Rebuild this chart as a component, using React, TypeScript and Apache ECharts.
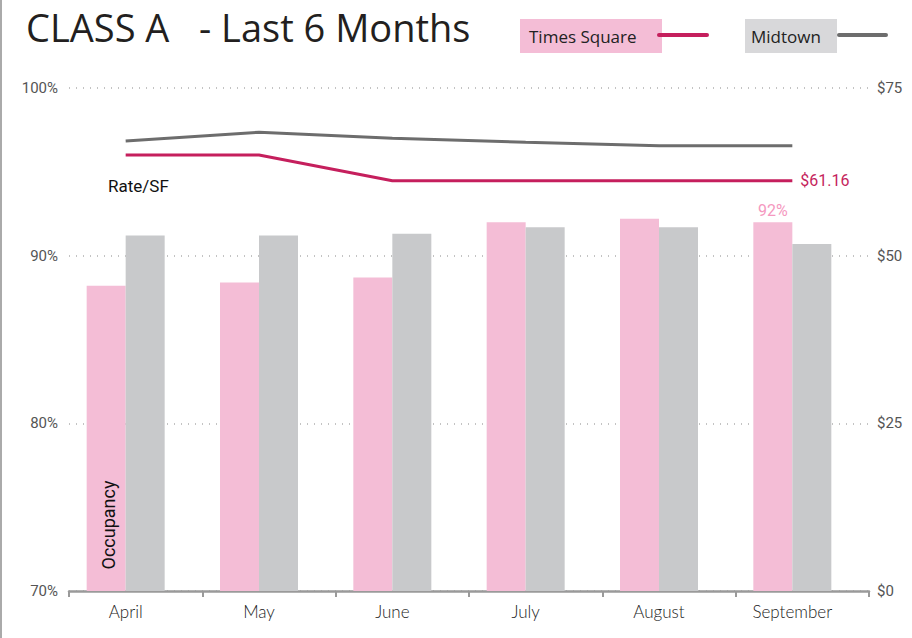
import React, { useEffect, useRef } from "react";
import * as echarts from "echarts";

const months = ["April", "May", "June", "July", "August", "September"];
const timesSquareOccupancy = [88.2, 88.4, 88.7, 92.0, 92.2, 92.0];
const midtownOccupancy = [91.2, 91.2, 91.3, 91.7, 91.7, 90.7];
const timesSquareRate = [65.0, 65.0, 61.16, 61.16, 61.16, 61.16];
const midtownRate = [67.1, 68.4, 67.5, 66.9, 66.4, 66.4];
const occupancyTicks = [70, 80, 90, 100];
const rateTicks = [0, 25, 50, 75];

const PINK = "#F4BDD6";
const GRAY = "#C8C9CB";
const MAGENTA = "#C51F5D";
const DARK = "#6D6D6D";

export default function App() {
  const ref = useRef<HTMLDivElement>(null);
  useEffect(() => {
    if (!ref.current) return;
    const chart = echarts.init(ref.current, undefined, { renderer: "svg" });
    const last = timesSquareOccupancy.length - 1;
    chart.setOption({
      animation: false,
      backgroundColor: "#fff",
      title: {
        text: "CLASS A   - Last 6 Months",
        left: 21,
        top: 3,
        textStyle: { fontFamily: "Open Sans", fontSize: 38, fontWeight: "normal", color: "#231F20" },
      },
      grid: [
        { left: 69, right: 43, top: 88, bottom: 47 },
        { left: 59, right: 53, top: 88, bottom: 47 },
      ],
      xAxis: [
        {
          type: "category",
          gridIndex: 0,
          data: months,
          axisLine: { lineStyle: { color: "#9a9a9a", width: 2.5 } },
          axisTick: { show: true, length: 6, lineStyle: { color: "#9a9a9a", width: 2 } },
          axisLabel: { show: false },
        },
        {
          type: "category",
          gridIndex: 1,
          data: months,
          axisLine: { show: false },
          axisTick: { show: false },
          axisLabel: { fontFamily: "Lato", fontSize: 17, fontWeight: 300, color: "#222", margin: 12 },
        },
      ],
      yAxis: [
        {
          type: "value",
          gridIndex: 0,
          position: "left",
          min: occupancyTicks[0],
          max: occupancyTicks[occupancyTicks.length - 1],
          interval: 10,
          axisLine: { show: false },
          axisTick: { show: false },
          axisLabel: { formatter: "{value}%", fontFamily: "Roboto", fontSize: 15, color: "#555", margin: 11 },
          splitLine: { lineStyle: { type: [1, 6], color: "#b0b0b0", width: 1.5 } },
        },
        {
          type: "value",
          gridIndex: 0,
          position: "right",
          min: rateTicks[0],
          max: rateTicks[rateTicks.length - 1],
          interval: 25,
          axisLine: { show: false },
          axisTick: { show: false },
          axisLabel: { formatter: "${value}", fontFamily: "Roboto", fontSize: 15, color: "#555", margin: 8 },
          splitLine: { show: false },
        },
        {
          type: "value",
          gridIndex: 1,
          min: occupancyTicks[0],
          max: occupancyTicks[occupancyTicks.length - 1],
          show: false,
        },
        {
          type: "value",
          gridIndex: 1,
          min: rateTicks[0],
          max: rateTicks[rateTicks.length - 1],
          show: false,
        },
      ],
      series: [
        {
          name: "Times Square",
          type: "bar",
          xAxisIndex: 1,
          yAxisIndex: 2,
          barWidth: 39,
          barGap: "0%",
          itemStyle: { color: PINK },
          data: timesSquareOccupancy.map((v, i) =>
            i === last
              ? {
                  value: v,
                  label: {
                    show: true,
                    position: "top",
                    distance: 4,
                    formatter: (p: any) => Math.round(p.value) + "%",
                    color: "#F598C0",
                    fontFamily: "Roboto",
                    fontSize: 16,
                  },
                }
              : v
          ),
        },
        {
          name: "Midtown",
          type: "bar",
          xAxisIndex: 1,
          yAxisIndex: 2,
          barWidth: 39,
          barGap: "0%",
          itemStyle: { color: GRAY },
          data: midtownOccupancy,
        },
        {
          name: "Midtown Rate",
          type: "line",
          xAxisIndex: 1,
          yAxisIndex: 3,
          symbol: "none",
          lineStyle: { color: DARK, width: 3 },
          data: midtownRate,
        },
        {
          name: "Times Square Rate",
          type: "line",
          xAxisIndex: 1,
          yAxisIndex: 3,
          symbol: "none",
          lineStyle: { color: MAGENTA, width: 3 },
          endLabel: {
            show: true,
            formatter: (p: any) => "$" + Number(p.value).toFixed(2),
            color: MAGENTA,
            fontFamily: "Roboto",
            fontSize: 16,
            distance: 8,
          },
          data: timesSquareRate,
        },
      ],
      graphic: [
        { type: "line", z: 100, shape: { x1: 1, y1: 0, x2: 1, y2: 638 }, style: { stroke: "#aaa", lineWidth: 2 } },
        { type: "rect", z: 100, shape: { x: 520, y: 19, width: 142, height: 34 }, style: { fill: PINK } },
        {
          type: "text",
          z: 101,
          x: 529,
          y: 36,
          style: { text: "Times Square", fontFamily: "Open Sans", fontSize: 17, fill: "#222", verticalAlign: "middle" },
        },
        {
          type: "line",
          z: 101,
          shape: { x1: 659, y1: 35, x2: 707, y2: 35 },
          style: { stroke: MAGENTA, lineWidth: 4, lineCap: "round" },
        },
        { type: "rect", z: 100, shape: { x: 745, y: 19, width: 92, height: 34 }, style: { fill: "#D8D8DA" } },
        {
          type: "text",
          z: 101,
          x: 751,
          y: 36,
          style: { text: "Midtown", fontFamily: "Open Sans", fontSize: 17, fill: "#222", verticalAlign: "middle" },
        },
        {
          type: "line",
          z: 101,
          shape: { x1: 839, y1: 35, x2: 886, y2: 35 },
          style: { stroke: DARK, lineWidth: 4, lineCap: "round" },
        },
        {
          type: "text",
          z: 101,
          x: 108,
          y: 186,
          style: { text: "Rate/SF", fontFamily: "Roboto", fontSize: 17, fill: "#111", verticalAlign: "middle" },
        },
        {
          type: "text",
          z: 101,
          x: 108,
          y: 525,
          rotation: Math.PI / 2,
          style: {
            text: "Occupancy",
            fontFamily: "Roboto",
            fontSize: 18,
            fill: "#111",
            align: "center",
            verticalAlign: "middle",
          },
        },
      ],
    });
    return () => chart.dispose();
  }, []);
  return (
    <div
      ref={ref}
      style={{ position: "absolute", left: 0, top: 0, width: 912, height: 638 }}
    />
  );
}
